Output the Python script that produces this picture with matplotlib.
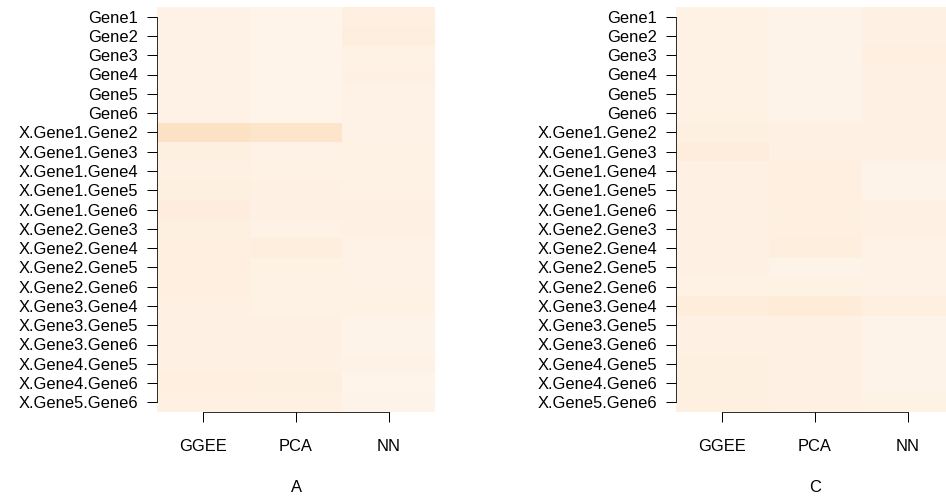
import matplotlib
matplotlib.use("Agg")
import matplotlib.pyplot as plt
import numpy as np

plt.rcParams["font.family"] = ["Liberation Sans", "DejaVu Sans"]

rows = ["Gene1", "Gene2", "Gene3", "Gene4", "Gene5", "Gene6",
        "X.Gene1.Gene2", "X.Gene1.Gene3", "X.Gene1.Gene4", "X.Gene1.Gene5",
        "X.Gene1.Gene6", "X.Gene2.Gene3", "X.Gene2.Gene4", "X.Gene2.Gene5",
        "X.Gene2.Gene6", "X.Gene3.Gene4", "X.Gene3.Gene5", "X.Gene3.Gene6",
        "X.Gene4.Gene5", "X.Gene4.Gene6", "X.Gene5.Gene6"]
methods = ["GGEE", "PCA", "NN"]

# cell intensities (0..1 on the Oranges scale)
panel_a = [
    [0.020, 0.010, 0.045],
    [0.020, 0.010, 0.055],
    [0.020, 0.010, 0.025],
    [0.020, 0.010, 0.030],
    [0.020, 0.010, 0.020],
    [0.020, 0.010, 0.020],
    [0.150, 0.130, 0.020],
    [0.040, 0.020, 0.025],
    [0.035, 0.025, 0.025],
    [0.040, 0.035, 0.025],
    [0.060, 0.035, 0.030],
    [0.040, 0.020, 0.030],
    [0.045, 0.055, 0.020],
    [0.050, 0.025, 0.020],
    [0.050, 0.025, 0.020],
    [0.030, 0.025, 0.025],
    [0.030, 0.030, 0.015],
    [0.030, 0.035, 0.015],
    [0.030, 0.030, 0.020],
    [0.045, 0.040, 0.010],
    [0.035, 0.030, 0.015],
]
panel_c = [
    [0.025, 0.015, 0.035],
    [0.025, 0.015, 0.035],
    [0.025, 0.015, 0.050],
    [0.025, 0.015, 0.035],
    [0.025, 0.015, 0.035],
    [0.025, 0.015, 0.030],
    [0.040, 0.035, 0.030],
    [0.060, 0.035, 0.030],
    [0.030, 0.050, 0.015],
    [0.030, 0.050, 0.015],
    [0.030, 0.040, 0.030],
    [0.030, 0.050, 0.030],
    [0.030, 0.055, 0.020],
    [0.030, 0.015, 0.020],
    [0.025, 0.025, 0.020],
    [0.070, 0.080, 0.045],
    [0.035, 0.035, 0.015],
    [0.035, 0.035, 0.015],
    [0.040, 0.035, 0.015],
    [0.040, 0.035, 0.015],
    [0.040, 0.035, 0.025],
]
titles = ["A", "C"]

W, H = 946, 496
FS = 16.5
fig = plt.figure(figsize=(W / 72, H / 72), dpi=72)


def draw_panel(x0, data, title):
    ax = fig.add_axes([x0 / W, (H - 412) / H, 278 / W, 405 / H])
    ax.imshow(np.array(data), cmap="Oranges", vmin=0, vmax=1,
              aspect="auto", interpolation="nearest")
    ax.set_yticks(range(len(rows)))
    ax.set_yticklabels(rows, fontsize=FS)
    ax.set_xticks(range(len(methods)))
    ax.set_xticklabels(methods, fontsize=FS)
    for s in ["top", "right"]:
        ax.spines[s].set_visible(False)
    ax.spines["left"].set_bounds(0, len(rows) - 1)
    ax.spines["bottom"].set_bounds(0, len(methods) - 1)
    ax.tick_params(axis="y", length=10, pad=9, width=1)
    ax.tick_params(axis="x", length=10, pad=17, width=1)
    ax.annotate(title, xy=(0.5, 0), xycoords="axes fraction",
                xytext=(0, -76), textcoords="offset points",
                ha="center", va="center", fontsize=FS)
    return ax


draw_panel(157, panel_a, titles[0])
draw_panel(676, panel_c, titles[1])

fig.savefig("out.png", dpi=72)
